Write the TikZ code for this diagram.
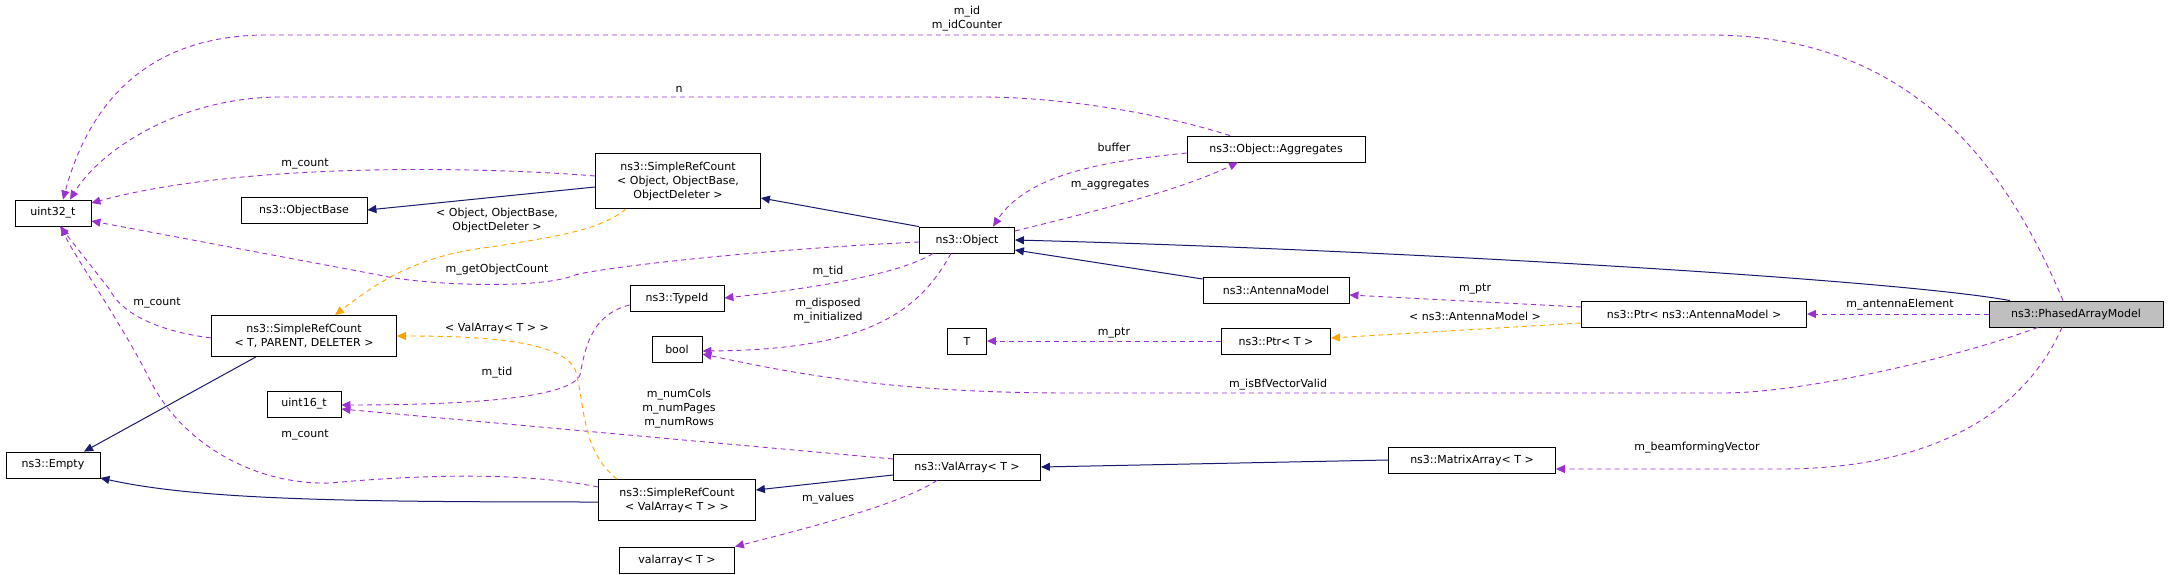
\documentclass[tikz,border=0pt]{standalone}
\usepackage{fontspec}
\setmainfont{DejaVu Sans}
\usetikzlibrary{arrows.meta}
\definecolor{inh}{HTML}{191970}
\definecolor{mem}{HTML}{9A32CD}
\definecolor{tpl}{HTML}{FFA500}
\begin{document}
\begin{tikzpicture}[x=1pt,y=-1pt,
  box/.style={draw,thick,fill=white,align=center,inner sep=1pt,font=\fontsize{11}{14}\selectfont},
  lbl/.style={align=center,inner sep=0pt,font=\fontsize{11}{14}\selectfont},
  arrtip/.style={-{Triangle[length=9pt,width=8pt]}},
  inhe/.style={arrtip,inh,line width=1pt},
  mbr/.style={arrtip,mem,line width=0.9pt,dash pattern=on 5pt off 4pt},
  tpe/.style={arrtip,tpl,line width=0.9pt,dash pattern=on 5pt off 4pt}]
\useasboundingbox (0,0) rectangle (2171,575);
\node[box,minimum width=76,minimum height=26] (u32) at (53,213) {uint32\_t};
\node[box,minimum width=126,minimum height=26] (ob) at (304,210) {ns3::ObjectBase};
\node[box,minimum width=165,minimum height=55] (sro) at (678,181) {ns3::SimpleRefCount\\{}< Object, ObjectBase,\\ObjectDeleter >};
\node[box,minimum width=95,minimum height=26] (obj) at (967,240) {ns3::Object};
\node[box,minimum width=185,minimum height=41] (srt) at (304,336) {ns3::SimpleRefCount\\{}< T, PARENT, DELETER >};
\node[box,minimum width=94,minimum height=26] (tid) at (677,298) {ns3::TypeId};
\node[box,minimum width=50,minimum height=26] (bool) at (677,349) {bool};
\node[box,minimum width=39,minimum height=26] (T) at (967,341) {T};
\node[box,minimum width=74,minimum height=26] (u16) at (304,404) {uint16\_t};
\node[box,minimum width=94,minimum height=26] (emp) at (53,465) {ns3::Empty};
\node[box,minimum width=157,minimum height=41] (srv) at (677,500) {ns3::SimpleRefCount\\{}< ValArray< T > >};
\node[box,minimum width=147,minimum height=26] (va) at (967,467) {ns3::ValArray< T >};
\node[box,minimum width=115,minimum height=26] (vl) at (677,560) {valarray< T >};
\node[box,minimum width=178,minimum height=26] (agg) at (1276,149) {ns3::Object::Aggregates};
\node[box,minimum width=146,minimum height=26] (am) at (1276,290) {ns3::AntennaModel};
\node[box,minimum width=109,minimum height=26] (pt) at (1276,341) {ns3::Ptr< T >};
\node[box,minimum width=225,minimum height=26] (pam) at (1694,314) {ns3::Ptr< ns3::AntennaModel >};
\node[box,minimum width=174,minimum height=26,fill=black!25] (pha) at (2076,314) {ns3::PhasedArrayModel};
\node[box,minimum width=167,minimum height=26] (mx) at (1472,460) {ns3::MatrixArray< T >};
% inheritance
\draw[inhe] (obj.north west) -- (sro.east |- 0,198);
\draw[inhe] (sro.west |- 0,187) -- (ob.east);
\draw[inhe] ([xshift=-66pt]pha.north) .. controls (1900,280) and (1400,250) .. (obj.east |- 0,240);
\draw[inhe] (am.west |- 0,279) -- (obj.east |- 0,250);
\draw[inhe] ([xshift=-48pt]srt.south) -- ([xshift=31pt]emp.north);
\draw[inhe] (srv.west |- 0,502) .. controls (350,502) and (200,500) .. (emp.east |- 0,478);
\draw[inhe] (va.west |- 0,475) -- (srv.east |- 0,490);
\draw[inhe] (mx.west) -- (va.east);
% members
\draw[mbr] ([xshift=-13pt]pha.north) .. controls (2000,150) and (1900,35) .. (1709,35) -- (267,35) .. controls (150,35) and (90,100) .. ([xshift=10pt]u32.north);
\node[lbl] at (967,19) {m\_id\\m\_idCounter};
\draw[mbr] ([xshift=-46pt]agg.north) .. controls (1150,110) and (1050,97) .. (982,97) -- (281,97) .. controls (180,97) and (100,150) .. ([xshift=17pt]u32.north);
\node[lbl] at (679,89) {n};
\draw[mbr] (sro.west |- 0,176) .. controls (500,168) and (250,160) .. (u32.east |- 0,203);
\node[lbl] at (305,164) {m\_count};
\draw[mbr] (obj.west |- 0,242) .. controls (750,250) and (600,268) .. (575,275) .. controls (540,290) and (420,285) .. (379,275) -- (u32.east |- 0,221);
\node[lbl] at (497,270) {m\_getObjectCount};
\draw[mbr] (srt.west |- 0,338) .. controls (150,330) and (120,310) .. (110,290) -- ([xshift=7pt]u32.south);
\node[lbl] at (157,303) {m\_count};
\draw[mbr] (srv.west |- 0,487) .. controls (540,475) and (450,472) .. (330,483) .. controls (250,485) and (180,440) .. (150,380) .. controls (120,320) and (70,250) .. ([xshift=9pt]u32.south);
\node[lbl] at (305,435) {m\_count};
\draw[mbr] (agg.west |- 0,153) .. controls (1120,160) and (1030,170) .. ([xshift=26pt]obj.north);
\node[lbl] at (1114,147) {buffer};
\draw[mbr] (obj.east |- 0,231) .. controls (1100,210) and (1180,190) .. ([xshift=-38pt]agg.south);
\node[lbl] at (1110,185) {m\_aggregates};
\draw[mbr] ([xshift=-34pt]obj.south) .. controls (900,275) and (800,290) .. (tid.east);
\node[lbl] at (828,272) {m\_tid};
\draw[mbr] ([xshift=-16pt]obj.south) .. controls (920,310) and (870,350) .. (bool.east |- 0,351);
\node[lbl] at (828,311) {m\_disposed\\m\_initialized};
\draw[mbr] (tid.west |- 0,305) .. controls (590,315) and (585,350) .. (580,375) .. controls (570,400) and (450,405) .. (u16.east |- 0,405);
\node[lbl] at (497,373) {m\_tid};
\draw[mbr] (va.west |- 0,459) -- (u16.east |- 0,409);
\node[lbl] at (679,409) {m\_numCols\\m\_numPages\\m\_numRows};
\draw[mbr] ([xshift=-30pt]va.south) .. controls (900,505) and (800,530) .. (vl.north east);
\node[lbl] at (828,499) {m\_values};
\draw[mbr] (pt.west) -- (T.east);
\node[lbl] at (1114,333) {m\_ptr};
\draw[mbr] (pam.west |- 0,307) -- (am.east |- 0,295);
\node[lbl] at (1475,289) {m\_ptr};
\draw[mbr] (pha.west) -- (pam.east);
\node[lbl] at (1900,305) {m\_antennaElement};
\draw[mbr] ([xshift=-38pt]pha.south) .. controls (1950,360) and (1800,393) .. (1723,393) -- (1070,393) .. controls (900,393) and (800,375) .. (bool.east |- 0,354);
\node[lbl] at (1278,385) {m\_isBfVectorValid};
\draw[mbr] ([xshift=-14pt]pha.south) .. controls (2030,400) and (1950,469) .. (1780,469) -- (mx.east |- 0,469);
\node[lbl] at (1697,448) {m\_beamformingVector};
% templates
\draw[tpe] ([xshift=-52pt]sro.south) .. controls (600,230) and (560,236) .. (491,247) .. controls (420,255) and (380,280) .. ([xshift=31pt]srt.north);
\node[lbl] at (497,220) {< Object, ObjectBase,\\ObjectDeleter >};
\draw[tpe] ([xshift=-60pt]srv.north) .. controls (580,450) and (585,400) .. (575,369) .. controls (560,340) and (480,336) .. (srt.east);
\node[lbl] at (497,328) {< ValArray< T > >};
\draw[tpe] (pam.west |- 0,323) -- (pt.east |- 0,338);
\node[lbl] at (1475,316) {< ns3::AntennaModel >};
\end{tikzpicture}
\end{document}
